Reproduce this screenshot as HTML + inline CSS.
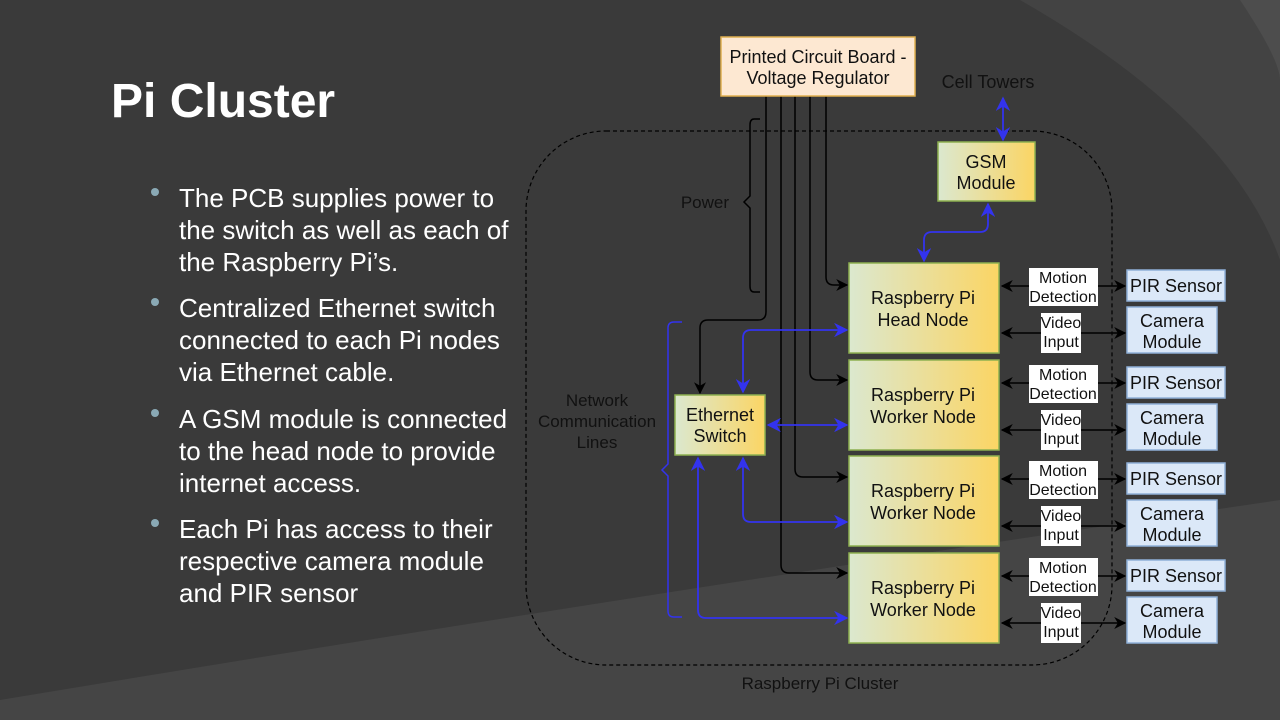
<!DOCTYPE html>
<html><head><meta charset="utf-8"><style>
html,body{margin:0;padding:0;background:#3a3a3a}
svg{display:block}
text{font-family:"Liberation Sans",sans-serif}
</style></head><body>
<svg width="1280" height="720" viewBox="0 0 1280 720" xmlns="http://www.w3.org/2000/svg">
<defs>
<linearGradient id="g" x1="0" x2="1" y1="0" y2="0"><stop offset="0" stop-color="#dbe8cf"/><stop offset="1" stop-color="#fbd564"/></linearGradient>
<marker id="ak" viewBox="0 0 10 10" refX="9" refY="5" markerWidth="8" markerHeight="8" orient="auto-start-reverse"><path d="M0,0 L10,5 L0,10 L3,5 z" fill="#000"/></marker>
<marker id="ab" viewBox="0 0 10 10" refX="9" refY="5" markerWidth="8" markerHeight="8" orient="auto-start-reverse"><path d="M0,0 L10,5 L0,10 L3,5 z" fill="#3333ee"/></marker>
</defs>
<rect width="1280" height="720" fill="#3a3a3a"/>
<path d="M0,720 L0,700 Q600,600 1280,500 L1280,720 z" fill="#454545"/>
<path d="M1020,0 Q1230,120 1280,260 L1280,0 z" fill="#434343"/>
<path d="M1240,0 Q1280,60 1280,80 L1280,0z" fill="#4d4d4d"/>
<text x="111" y="117" font-size="48" font-weight="bold" fill="#fff">Pi Cluster</text>
<g font-size="26" fill="#fff">
<circle cx="155" cy="192" r="4" fill="#8aa9b5"/>
<text x="179" y="207">The PCB supplies power to</text>
<text x="179" y="239">the switch as well as each of</text>
<text x="179" y="271">the Raspberry Pi’s.</text>
<circle cx="155" cy="302" r="4" fill="#8aa9b5"/>
<text x="179" y="317">Centralized Ethernet switch</text>
<text x="179" y="349">connected to each Pi nodes</text>
<text x="179" y="381">via Ethernet cable.</text>
<circle cx="155" cy="413" r="4" fill="#8aa9b5"/>
<text x="179" y="428">A GSM module is connected</text>
<text x="179" y="460">to the head node to provide</text>
<text x="179" y="492">internet access.</text>
<circle cx="155" cy="523" r="4" fill="#8aa9b5"/>
<text x="179" y="538">Each Pi has access to their</text>
<text x="179" y="570">respective camera module</text>
<text x="179" y="602">and PIR sensor</text>
</g>
<rect x="526" y="131" width="586" height="534" rx="80" fill="none" stroke="#000" stroke-width="1.2" stroke-dasharray="4,3"/>
<text x="820" y="689" font-size="17" fill="#111" text-anchor="middle">Raspberry Pi Cluster</text>
<g stroke="#000" stroke-width="1.5" fill="none">
<path d="M826,96 V277 Q826,285 834,285 H847" marker-end="url(#ak)"/>
<path d="M810,96 V372 Q810,380 818,380 H847" marker-end="url(#ak)"/>
<path d="M795,96 V469 Q795,477 803,477 H847" marker-end="url(#ak)"/>
<path d="M781,96 V565 Q781,573 789,573 H847" marker-end="url(#ak)"/>
<path d="M766,96 V312 Q766,320 758,320 H708 Q700,320 700,328 V393" marker-end="url(#ak)"/>
<path d="M760,119 H754 Q750,119 750,125 V196 L744,202 L750,208 V286 Q750,292 754,292 H760"/>
</g>
<text x="729" y="208" font-size="17" fill="#111" text-anchor="end">Power</text>
<path d="M682,322 H674 Q668,322 668,328 V464 L662,470 L668,476 V611 Q668,617 674,617 H682" stroke="#3333ee" stroke-width="1.5" fill="none"/>
<g font-size="17" fill="#111" text-anchor="middle"><text x="597" y="406">Network</text><text x="597" y="427">Communication</text><text x="597" y="448">Lines</text></g>
<g stroke="#3333ee" stroke-width="1.8" fill="none">
<path d="M743,392 V338 Q743,330 751,330 H847" marker-start="url(#ab)" marker-end="url(#ab)"/>
<path d="M768,425 H847" marker-start="url(#ab)" marker-end="url(#ab)"/>
<path d="M743,458 V514 Q743,522 751,522 H847" marker-start="url(#ab)" marker-end="url(#ab)"/>
<path d="M698,458 V610 Q698,618 706,618 H847" marker-start="url(#ab)" marker-end="url(#ab)"/>
<path d="M988,204 V224 Q988,232 980,232 H932 Q924,232 924,240 V261" marker-start="url(#ab)" marker-end="url(#ab)"/>
<path d="M1003,98 V140" marker-start="url(#ab)" marker-end="url(#ab)"/>
</g>
<text x="988" y="88" font-size="18" fill="#111" text-anchor="middle">Cell Towers</text>
<rect x="721" y="37" width="194" height="59" fill="#fde8d2" stroke="#e0b050" stroke-width="1.5"/>
<g font-size="18" fill="#111" text-anchor="middle"><text x="818" y="63">Printed Circuit Board -</text><text x="818" y="84">Voltage Regulator</text></g>
<rect x="938" y="142" width="97" height="59" fill="url(#g)" stroke="#8db050" stroke-width="1.5"/>
<g font-size="18" fill="#111" text-anchor="middle"><text x="986" y="168">GSM</text><text x="986" y="189">Module</text></g>
<rect x="675" y="395" width="90" height="60" fill="url(#g)" stroke="#8db050" stroke-width="1.5"/>
<g font-size="18" fill="#111" text-anchor="middle"><text x="720" y="421">Ethernet</text><text x="720" y="442">Switch</text></g>
<g id="row0">
<rect x="849" y="263" width="150" height="90" fill="url(#g)" stroke="#8db050" stroke-width="1.5"/>
<g stroke="#000" stroke-width="1.5" fill="none">
<path d="M1002,286 H1125" marker-start="url(#ak)" marker-end="url(#ak)"/>
<path d="M1002,333 H1125" marker-start="url(#ak)" marker-end="url(#ak)"/>
</g>
<rect x="1029" y="268" width="69" height="38" fill="#fff"/>
<rect x="1041" y="313" width="40" height="40" fill="#fff"/>
<g font-size="16" fill="#111" text-anchor="middle"><text x="1063" y="283">Motion</text><text x="1063" y="302">Detection</text><text x="1061" y="328">Video</text><text x="1061" y="347">Input</text></g>
<rect x="1127" y="270" width="98" height="31" fill="#dbe8f8" stroke="#8fb0d8" stroke-width="1.5"/>
<rect x="1127" y="307" width="90" height="46" fill="#dbe8f8" stroke="#8fb0d8" stroke-width="1.5"/>
<g font-size="18" fill="#111" text-anchor="middle"><text x="1176" y="292">PIR Sensor</text><text x="1172" y="327">Camera</text><text x="1172" y="348">Module</text></g>
</g>
<text x="923" y="304" font-size="18" fill="#111" text-anchor="middle">Raspberry Pi</text>
<text x="923" y="326" font-size="18" fill="#111" text-anchor="middle">Head Node</text>
<use href="#row0" transform="translate(0,97)"/>
<use href="#row0" transform="translate(0,193)"/>
<use href="#row0" transform="translate(0,290)"/>
<g font-size="18" fill="#111" text-anchor="middle">
<text x="923" y="401">Raspberry Pi</text><text x="923" y="423">Worker Node</text>
<text x="923" y="497">Raspberry Pi</text><text x="923" y="519">Worker Node</text>
<text x="923" y="594">Raspberry Pi</text><text x="923" y="616">Worker Node</text>
</g>
</svg>
</body></html>
